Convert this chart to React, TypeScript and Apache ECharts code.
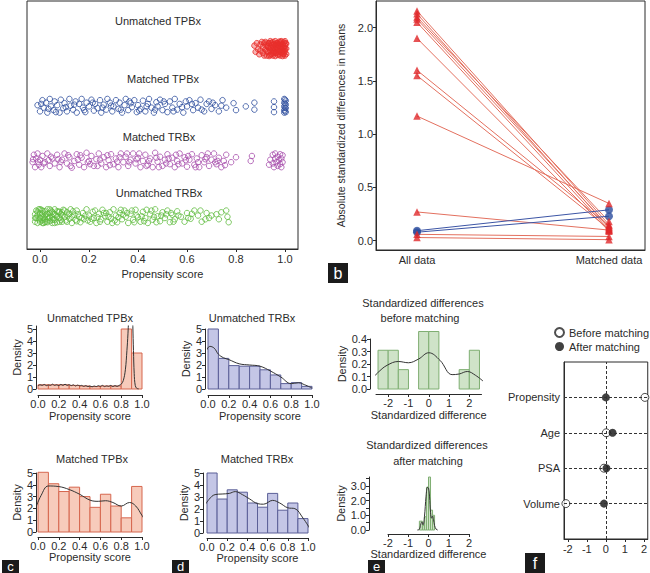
import React, { useEffect, useRef } from 'react';
import * as echarts from 'echarts';

const FONT = '"Liberation Sans", Arial, Helvetica, sans-serif';
const INK = '#2b2b2b';

// ---------- panel a : jittered propensity scores ----------
const groupNames = ['Unmatched TPBx', 'Matched TPBx', 'Matched TRBx', 'Unmatched TRBx'];
const scoreTicks = [0, 0.2, 0.4, 0.6, 0.8, 1.0];
const unmatchedTPBx = [
  [0.875, 8.2], [0.88, 7.95], [0.885, 8.3], [0.89, 8.05], [0.895, 7.85], [0.9, 8.25], [0.9, 8.0], [0.905, 8.35],
  [0.91, 7.9], [0.91, 8.15], [0.915, 7.8], [0.915, 8.3], [0.92, 8.05], [0.92, 8.35], [0.925, 7.8], [0.925, 8.2],
  [0.93, 7.95], [0.93, 8.3], [0.935, 8.1], [0.935, 7.78], [0.94, 8.38], [0.94, 8.0], [0.945, 7.85], [0.945, 8.22],
  [0.95, 8.1], [0.95, 7.8], [0.95, 8.35], [0.955, 7.95], [0.955, 8.25], [0.96, 8.05], [0.96, 7.78], [0.96, 8.38],
  [0.965, 8.15], [0.965, 7.9], [0.97, 8.3], [0.97, 8.0], [0.97, 7.82], [0.975, 8.2], [0.975, 7.95], [0.975, 8.36],
  [0.98, 8.1], [0.98, 7.8], [0.98, 8.28], [0.985, 7.92], [0.985, 8.15], [0.985, 8.38], [0.99, 8.0], [0.99, 7.78],
  [0.99, 8.25], [0.995, 8.1], [0.995, 7.88], [0.995, 8.33], [1.0, 7.97], [1.0, 8.2], [1.0, 7.8], [1.0, 8.38],
  [1.005, 8.08], [1.005, 7.86], [1.005, 8.28], [0.93, 8.15], [0.94, 7.82], [0.95, 8.0], [0.96, 8.22], [0.97, 8.12],
  [0.98, 7.98], [0.99, 8.12], [1.0, 8.08], [0.945, 8.3], [0.955, 8.1], [0.965, 8.3], [0.975, 7.85], [0.985, 8.05],
  [0.995, 7.98], [0.925, 7.98], [0.935, 8.3], [0.942, 8.12], [0.952, 7.9], [0.962, 7.92], [0.972, 8.25], [0.982, 8.36],
  [0.992, 7.85], [1.002, 8.3],
];
const matchedTPBx = [
  [-0.01, 5.8], [0.0, 5.55], [0.01, 6.0], [0.015, 5.7], [0.025, 5.9], [0.03, 5.5], [0.04, 6.05], [0.045, 5.75],
  [0.055, 5.6], [0.06, 5.95], [0.07, 5.8], [0.08, 5.5], [0.085, 6.02], [0.095, 5.68], [0.1, 5.88], [0.11, 5.55],
  [0.12, 6.05], [0.125, 5.78], [0.135, 5.62], [0.145, 5.95], [0.15, 5.5], [0.16, 5.85], [0.17, 6.05], [0.175, 5.7],
  [0.185, 5.52], [0.19, 5.9], [0.2, 5.75], [0.21, 6.02], [0.22, 5.58], [0.225, 5.85], [0.235, 5.68], [0.245, 6.0],
  [0.25, 5.5], [0.26, 5.82], [0.27, 5.62], [0.275, 6.05], [0.285, 5.9], [0.295, 5.55], [0.3, 5.75], [0.31, 6.0],
  [0.32, 5.65], [0.325, 5.9], [0.335, 5.5], [0.345, 5.8], [0.35, 6.05], [0.36, 5.6], [0.37, 5.88], [0.375, 5.72],
  [0.385, 6.0], [0.395, 5.52], [0.4, 5.8], [0.41, 5.65], [0.42, 5.98], [0.43, 5.55], [0.44, 5.85], [0.445, 6.05],
  [0.455, 5.7], [0.465, 5.5], [0.475, 5.92], [0.48, 5.75], [0.49, 6.02], [0.5, 5.6], [0.51, 5.85], [0.52, 5.52],
  [0.53, 5.95], [0.54, 5.7], [0.55, 6.05], [0.56, 5.62], [0.57, 5.85], [0.585, 5.5], [0.595, 5.95], [0.6, 5.75],
  [0.61, 6.0], [0.625, 5.6], [0.635, 5.88], [0.645, 5.7], [0.655, 6.02], [0.67, 5.55], [0.68, 5.85], [0.69, 5.95],
  [0.7, 5.65], [0.715, 5.8], [0.73, 5.55], [0.745, 6.0], [0.76, 5.7], [0.79, 5.88], [0.8, 5.6], [0.84, 5.75],
  [0.875, 5.62], [0.875, 5.9], [0.955, 5.95], [0.955, 5.72], [0.955, 5.52],
  [0.997, 6.05], [0.997, 5.9], [0.997, 5.75], [0.997, 5.6], [0.997, 5.5], [1.003, 5.98], [1.003, 5.82],
  [1.003, 5.68], [1.003, 5.52], [1.0, 6.02], [1.0, 5.86], [1.0, 5.7], [1.0, 5.56],
  [0.005, 5.85], [0.035, 5.65], [0.065, 5.52], [0.105, 5.72], [0.14, 5.82], [0.18, 5.6], [0.215, 5.9],
  [0.255, 5.7], [0.29, 5.78], [0.33, 5.62], [0.365, 5.95], [0.405, 5.58], [0.435, 5.75], [0.47, 5.62],
  [0.505, 5.95], [0.545, 5.55], [0.58, 5.72], [0.62, 5.85], [0.66, 5.62], [0.705, 5.9], [0.74, 5.78],
];
const matchedTRBx = [
  [-0.03, 3.5], [-0.025, 3.8], [-0.02, 3.3], [-0.015, 3.65], [-0.01, 3.85], [-0.005, 3.4], [0.0, 3.6], [0.005, 3.3],
  [0.01, 3.75], [0.02, 3.5], [0.03, 3.85], [0.04, 3.35], [0.05, 3.65], [0.06, 3.45], [0.07, 3.8], [0.08, 3.3],
  [0.09, 3.6], [0.1, 3.85], [0.11, 3.45], [0.12, 3.7], [0.13, 3.28], [0.14, 3.55], [0.15, 3.82], [0.16, 3.4],
  [0.17, 3.68], [0.18, 3.3], [0.19, 3.88], [0.2, 3.55], [0.21, 3.75], [0.22, 3.35], [0.23, 3.62], [0.24, 3.85],
  [0.25, 3.45], [0.26, 3.7], [0.27, 3.3], [0.28, 3.58], [0.29, 3.82], [0.3, 3.42], [0.31, 3.65], [0.32, 3.3],
  [0.33, 3.85], [0.34, 3.5], [0.35, 3.72], [0.36, 3.35], [0.37, 3.6], [0.38, 3.85], [0.39, 3.45], [0.4, 3.68],
  [0.41, 3.3], [0.42, 3.55], [0.43, 3.8], [0.44, 3.4], [0.45, 3.65], [0.46, 3.3], [0.47, 3.88], [0.48, 3.52],
  [0.49, 3.72], [0.5, 3.35], [0.51, 3.6], [0.52, 3.82], [0.53, 3.42], [0.54, 3.68], [0.55, 3.3], [0.56, 3.55],
  [0.57, 3.85], [0.58, 3.45], [0.59, 3.7], [0.6, 3.32], [0.61, 3.6], [0.62, 3.82], [0.63, 3.4], [0.64, 3.65],
  [0.65, 3.3], [0.66, 3.78], [0.67, 3.5], [0.68, 3.7], [0.69, 3.35], [0.7, 3.6], [0.71, 3.85], [0.72, 3.42],
  [0.73, 3.68], [0.74, 3.3], [0.75, 3.55], [0.76, 3.8], [0.78, 3.5], [0.8, 3.7], [0.86, 3.55], [0.865, 3.75],
  [0.935, 3.4], [0.94, 3.6], [0.95, 3.8], [0.95, 3.45], [0.955, 3.3], [0.96, 3.65], [0.96, 3.85], [0.965, 3.5],
  [0.97, 3.35], [0.97, 3.72], [0.975, 3.58], [0.98, 3.82], [0.98, 3.42], [0.985, 3.3], [0.985, 3.65], [0.99, 3.5],
  [0.99, 3.78], [0.015, 3.45], [0.045, 3.72], [0.085, 3.52], [0.125, 3.35], [0.165, 3.78], [0.205, 3.42],
  [0.245, 3.6], [0.285, 3.38], [0.325, 3.7], [0.365, 3.5], [0.405, 3.85], [0.445, 3.55], [0.485, 3.3],
  [0.525, 3.65], [0.565, 3.42], [0.605, 3.75], [0.645, 3.5], [0.685, 3.85], [0.725, 3.55],
  [-0.028, 3.62], [-0.008, 3.52], [0.035, 3.58], [0.075, 3.62], [0.115, 3.78], [0.155, 3.6], [0.195, 3.5],
  [0.235, 3.35], [0.275, 3.78], [0.315, 3.52], [0.355, 3.85], [0.395, 3.62], [0.435, 3.35], [0.475, 3.68],
  [0.515, 3.45], [0.555, 3.8], [0.595, 3.58], [0.635, 3.3], [0.675, 3.62], [0.715, 3.5], [0.755, 3.38],
];
const unmatchedTRBx = [
  [-0.02, 1.1], [-0.02, 1.4], [-0.015, 1.25], [-0.015, 1.55], [-0.01, 1.05], [-0.01, 1.35], [-0.005, 1.6], [-0.005, 1.2],
  [0.0, 1.45], [0.0, 1.1], [0.005, 1.3], [0.005, 1.58], [0.01, 1.15], [0.01, 1.42], [0.015, 1.05], [0.015, 1.28],
  [0.02, 1.52], [0.02, 1.2], [0.025, 1.38], [0.03, 1.08], [0.03, 1.6], [0.035, 1.25], [0.04, 1.45], [0.04, 1.12],
  [0.045, 1.55], [0.05, 1.3], [0.05, 1.05], [0.055, 1.42], [0.06, 1.18], [0.06, 1.6], [0.065, 1.35], [0.07, 1.08],
  [0.075, 1.5], [0.08, 1.25], [0.085, 1.4], [0.09, 1.1], [0.095, 1.58], [0.1, 1.3], [0.105, 1.15], [0.11, 1.48],
  [0.12, 1.22], [0.125, 1.6], [0.13, 1.05], [0.14, 1.38], [0.145, 1.18], [0.15, 1.55], [0.16, 1.3], [0.165, 1.08],
  [0.175, 1.45], [0.18, 1.2], [0.19, 1.6], [0.2, 1.35], [0.205, 1.1], [0.215, 1.5], [0.22, 1.25], [0.23, 1.05],
  [0.24, 1.42], [0.25, 1.2], [0.255, 1.58], [0.265, 1.32], [0.275, 1.1], [0.285, 1.48], [0.29, 1.22], [0.3, 1.6],
  [0.31, 1.35], [0.315, 1.08], [0.325, 1.45], [0.335, 1.2], [0.345, 1.55], [0.35, 1.3], [0.36, 1.05], [0.37, 1.42],
  [0.38, 1.18], [0.39, 1.58], [0.4, 1.28], [0.41, 1.1], [0.42, 1.5], [0.43, 1.25], [0.44, 1.05], [0.45, 1.4],
  [0.46, 1.18], [0.47, 1.6], [0.48, 1.32], [0.49, 1.12], [0.5, 1.48], [0.51, 1.25], [0.52, 1.55], [0.53, 1.08],
  [0.54, 1.38], [0.55, 1.2], [0.56, 1.52], [0.575, 1.3], [0.59, 1.1], [0.6, 1.45], [0.615, 1.22], [0.63, 1.55],
  [0.645, 1.35], [0.66, 1.1], [0.68, 1.45], [0.69, 1.25], [0.72, 1.4], [0.73, 1.2], [0.76, 1.55], [0.765, 1.3],
  [0.77, 1.08], [0.0, 1.25], [0.01, 1.55], [0.02, 1.35], [0.03, 1.42], [0.04, 1.28], [0.05, 1.5], [0.06, 1.4],
  [0.07, 1.3], [0.08, 1.5], [0.09, 1.35], [0.025, 1.1], [0.055, 1.2], [0.085, 1.18], [0.115, 1.35], [0.135, 1.52],
  [0.17, 1.25], [0.195, 1.15], [0.235, 1.28], [0.27, 1.45], [0.305, 1.15], [0.34, 1.38], [0.375, 1.55],
  [0.415, 1.32], [0.455, 1.55], [0.495, 1.35], [0.535, 1.45],
  [-0.02, 1.25], [-0.01, 1.5], [0.0, 1.6], [0.01, 1.05], [0.02, 1.08], [0.03, 1.3], [0.04, 1.6], [0.05, 1.18],
  [0.06, 1.05], [0.07, 1.52], [0.08, 1.1], [0.09, 1.48], [0.1, 1.55], [0.11, 1.1], [0.12, 1.42], [0.13, 1.3],
  [0.15, 1.12], [0.155, 1.4], [0.185, 1.35], [0.21, 1.22], [0.225, 1.55], [0.245, 1.1], [0.26, 1.45],
  [0.28, 1.3], [0.295, 1.05], [0.32, 1.28], [0.33, 1.58], [0.355, 1.45], [0.385, 1.08], [0.395, 1.35],
  [0.425, 1.12], [0.435, 1.58], [0.465, 1.3], [0.475, 1.08], [0.515, 1.4], [0.545, 1.1], [0.565, 1.35],
  [0.605, 1.25], [0.62, 1.42], [0.655, 1.55], [0.675, 1.2], [0.7, 1.35], [0.74, 1.48],
];

// ---------- panel b : absolute standardized differences ----------
const bCats = ['All data', 'Matched data'];
const bTicks = [0, 0.5, 1.0, 1.5, 2.0];
const redBefore = [2.157, 2.13, 2.1, 2.08, 2.05, 1.9, 1.6, 1.55, 1.17, 0.27, 0.06, 0.03];
const redAfter = [0.15, 0.12, 0.18, 0.13, 0.1, 0.09, 0.14, 0.11, 0.35, 0.1, 0.04, 0.01];
const blueBefore = [0.094, 0.08];
const blueAfter = [0.29, 0.23];

// ---------- panels c, d : propensity score histograms ----------
const binEdges01 = [0, 0.1, 0.2, 0.3, 0.4, 0.5, 0.6, 0.7, 0.8, 0.9, 1.0];
const unmatchedTPBxHist = [0.35, 0.35, 0.35, 0.3, 0.25, 0.2, 0.25, 0.25, 5.0, 3.0];
const unmatchedTRBxHist = [5.0, 2.55, 1.95, 1.9, 1.9, 1.6, 1.17, 0.45, 0.53, 0.22];
const matchedTPBxHist = [5.06, 4.09, 3.43, 3.8, 3.0, 2.09, 3.2, 2.2, 1.2, 3.86];
const matchedTRBxHist = [5.0, 2.83, 3.6, 3.4, 2.5, 2.15, 3.3, 1.9, 2.5, 1.2];
const unmatchedTPBxDens = [
  [0, 0.25], [0.02, 0.35], [0.04, 0.3], [0.06, 0.38], [0.08, 0.28], [0.1, 0.33], [0.12, 0.3], [0.14, 0.4],
  [0.16, 0.3], [0.18, 0.35], [0.2, 0.28], [0.22, 0.38], [0.24, 0.3], [0.26, 0.4], [0.28, 0.3], [0.3, 0.36],
  [0.32, 0.28], [0.34, 0.35], [0.36, 0.25], [0.38, 0.32], [0.4, 0.27], [0.42, 0.3], [0.44, 0.22], [0.46, 0.28],
  [0.48, 0.2], [0.5, 0.25], [0.52, 0.18], [0.54, 0.25], [0.56, 0.2], [0.58, 0.28], [0.6, 0.22], [0.62, 0.3],
  [0.64, 0.2], [0.66, 0.26], [0.68, 0.22], [0.7, 0.3], [0.72, 0.2], [0.74, 0.28], [0.76, 0.22], [0.78, 0.3],
  [0.8, 0.4], [0.82, 0.7], [0.84, 1.6], [0.855, 3.2], [0.865, 4.6], [0.875, 6.5], [0.89, 9], [0.905, 7.5],
  [0.912, 5.2], [0.918, 3.2], [0.925, 1.3], [0.935, 0.3], [0.95, 0.05], [0.97, 0],
];
const unmatchedTRBxDens = [
  [-0.07, 1.9], [-0.03, 2.9], [0.02, 3.55], [0.06, 3.4], [0.1, 2.9], [0.15, 2.6], [0.2, 2.45], [0.3, 2.1],
  [0.4, 2.0], [0.5, 1.9], [0.6, 1.5], [0.7, 1.0], [0.8, 0.45], [0.87, 0.52], [0.93, 0.35], [1.0, 0.08],
];
const matchedTPBxDens = [
  [-0.03, 1.85], [0.03, 3.1], [0.1, 3.9], [0.2, 3.85], [0.3, 3.6], [0.4, 3.2], [0.5, 2.7], [0.58, 2.6],
  [0.65, 2.65], [0.72, 2.5], [0.8, 2.2], [0.88, 2.5], [0.94, 2.2], [1.0, 1.4], [1.05, 0.75],
];
const matchedTRBxDens = [
  [-0.05, 1.95], [0.02, 2.8], [0.08, 3.2], [0.15, 3.25], [0.22, 3.3], [0.28, 3.45], [0.35, 3.2], [0.42, 2.85],
  [0.5, 2.45], [0.56, 2.4], [0.65, 2.72], [0.72, 2.5], [0.8, 2.1], [0.87, 2.03], [0.95, 1.25], [1.02, 0.35],
];

// ---------- panel e : standardized differences ----------
const beforeEdges = [-2.5, -2, -1.5, -1, -0.5, 0, 0.5, 1, 1.5, 2, 2.5];
const beforeHist = [0.31, 0.31, 0.155, 0, 0.46, 0.46, 0, 0, 0.155, 0.31];
const beforeDens = [
  [-2.87, 0.07], [-2.45, 0.14], [-2.05, 0.19], [-1.5, 0.22], [-1.0, 0.21], [-0.5, 0.24], [0, 0.29],
  [0.55, 0.23], [1.15, 0.115], [1.5, 0.12], [1.9, 0.14], [2.3, 0.11], [2.7, 0.06],
];
const afterEdges = [-0.45, -0.3, -0.2, -0.1, 0, 0.1, 0.2, 0.3];
const afterHist = [0.6, 0.3, 0.9, 2.9, 3.6, 1.35, 1.0];
const afterDens = [
  [-0.55, 0], [-0.45, 0.05], [-0.38, 0.4], [-0.33, 0.55], [-0.27, 0.35], [-0.2, 0.9], [-0.12, 2.3],
  [-0.05, 2.9], [0.0, 2.85], [0.05, 2.3], [0.1, 1.2], [0.15, 0.8], [0.2, 0.95], [0.25, 0.7], [0.3, 0.3],
  [0.38, 0.05], [0.45, 0],
];

// ---------- panel f : covariate balance ----------
const covariates = ['Propensity', 'Age', 'PSA', 'Volume'];
const beforeMatching = [2.05, 0.02, -0.1, -2.1];
const afterMatching = [0.0, 0.35, 0.03, -0.1];
const fTicks = [-2, -1, 0, 1, 2];

const txt = { color: INK, fontSize: 11, fontFamily: FONT };

function xAx(gridIndex: number, min: number, max: number, ticks: number[], fmt: (v: number) => string, o: any = {}) {
  return {
    type: 'value', gridIndex, min, max, position: 'bottom', offset: o.offset || 0,
    axisLine: { show: o.line !== false, onZero: false, lineStyle: { color: INK, width: 1 } },
    axisTick: { show: o.tick !== false, length: 3, customValues: ticks, lineStyle: { color: INK } },
    axisLabel: { ...txt, margin: o.margin ?? 3, customValues: ticks, formatter: fmt },
    splitLine: { show: false },
    name: o.name || '', nameLocation: 'middle', nameGap: o.nameGap ?? 14, nameTextStyle: txt,
  };
}
function yAx(gridIndex: number, min: number, max: number, ticks: number[], labels: number[], fmt: (v: number) => string, o: any = {}) {
  return {
    type: 'value', gridIndex, min, max, position: 'left', offset: o.offset || 0,
    axisLine: { show: o.line !== false, onZero: false, lineStyle: { color: INK, width: 1 } },
    axisTick: { show: o.tick !== false, length: 3, customValues: ticks, lineStyle: { color: INK } },
    axisLabel: { ...txt, show: o.labels !== false, margin: o.margin ?? 3, customValues: labels, formatter: fmt },
    splitLine: { show: false },
    name: o.name || '', nameLocation: 'middle', nameGap: o.nameGap ?? 11,
    nameTextStyle: { ...txt, fontSize: o.nameSize || 11 },
  };
}

function histSeries(idx: number, edges: number[], heights: number[], fill: string, stroke: string) {
  const data = heights.map((h, i) => [edges[i], edges[i + 1], h]).filter((d) => d[2] > 0);
  return {
    type: 'custom', xAxisIndex: idx, yAxisIndex: idx, data, encode: { x: [0, 1], y: 2 }, clip: false, z: 2,
    renderItem: (_p: any, api: any) => {
      const a = api.coord([api.value(0), api.value(2)]);
      const b = api.coord([api.value(1), 0]);
      return {
        type: 'rect',
        shape: { x: a[0], y: a[1], width: b[0] - a[0], height: b[1] - a[1] },
        style: { fill, stroke, lineWidth: 1 },
      };
    },
  };
}
function densSeries(idx: number, data: number[][], clip = false) {
  return {
    type: 'line', xAxisIndex: idx, yAxisIndex: idx, data, smooth: 0.4, showSymbol: false, symbol: 'none', clip,
    lineStyle: { color: '#333', width: 1 }, z: 3,
  };
}
function jitter(data: number[][], color: string, fill: string) {
  return {
    type: 'scatter', xAxisIndex: 0, yAxisIndex: 0, data, symbol: 'circle', symbolSize: 5.5,
    itemStyle: { color: fill, borderColor: color, borderWidth: 1 },
  };
}
function label(text: string, cx: number, cy: number, size = 11, color = INK) {
  return {
    type: 'text', x: cx, y: cy,
    style: { text, fill: color, font: `${size}px ${FONT}`, align: 'center', verticalAlign: 'middle', textAlign: 'center', textVerticalAlign: 'middle' },
  };
}
function tag(letter: string, x: number, y: number, w: number, h: number, size = 16) {
  return {
    type: 'group', x, y,
    children: [
      { type: 'rect', shape: { x: 0, y: 0, width: w, height: h }, style: { fill: '#1b1b1b' } },
      label(letter, w / 2, h / 2, size, '#ffffff'),
    ],
  };
}

const f1 = (v: number) => v.toFixed(1);
const f0 = (v: number) => String(Math.round(v));

export default function App() {
  const ref = useRef<HTMLDivElement>(null);
  useEffect(() => {
    const chart = echarts.init(ref.current!, null, { renderer: 'svg' });
    const hGrid = (left: number, top: number, width: number, height: number) => ({ left, top, width, height, containLabel: false });
    const boxGrid = (left: number, top: number, width: number, height: number) => ({
      left, top, width, height, show: true, borderColor: INK, borderWidth: 1, backgroundColor: 'transparent',
    });
    const tpbxFill = '#f7cbbb', tpbxLine = '#d6664e';
    const trbxFill = '#c4c6e6', trbxLine = '#5b5f97';

    const series: any[] = [
      jitter(unmatchedTPBx, '#e8302c', 'rgba(232,48,44,0.45)'),
      jitter(matchedTPBx, '#2d4d9d', 'rgba(255,255,255,0)'),
      jitter(matchedTRBx, '#a64cab', 'rgba(255,255,255,0)'),
      jitter(unmatchedTRBx, '#5fbb3e', 'rgba(255,255,255,0)'),
    ];
    redBefore.forEach((v, i) => {
      series.push({
        type: 'line', xAxisIndex: 1, yAxisIndex: 1, data: [[0, v], [1, redAfter[i]]], showSymbol: false, symbol: 'none',
        lineStyle: { color: '#e3705f', width: 1 }, z: 2,
      });
    });
    blueBefore.forEach((v, i) => {
      series.push({
        type: 'line', xAxisIndex: 1, yAxisIndex: 1, data: [[0, v], [1, blueAfter[i]]], showSymbol: false, symbol: 'none',
        lineStyle: { color: '#3c55a5', width: 1 }, z: 2,
      });
    });
    series.push({
      type: 'scatter', xAxisIndex: 1, yAxisIndex: 1, symbol: 'circle', symbolSize: 8, z: 3,
      data: [...blueBefore.map((v) => [0, v]), ...blueAfter.map((v) => [1, v])],
      itemStyle: { color: '#2a4c9e' },
    });
    series.push({
      type: 'scatter', xAxisIndex: 1, yAxisIndex: 1, symbol: 'triangle', symbolSize: 7.5, z: 4,
      data: [...redBefore.map((v) => [0, v]), ...redAfter.map((v) => [1, v])],
      itemStyle: { color: '#e0282a' },
    });

    series.push(histSeries(2, binEdges01, unmatchedTPBxHist, tpbxFill, tpbxLine));
    series.push(densSeries(2, unmatchedTPBxDens, true));
    series.push(histSeries(3, binEdges01, unmatchedTRBxHist, trbxFill, trbxLine));
    series.push(densSeries(3, unmatchedTRBxDens));
    series.push(histSeries(4, binEdges01, matchedTPBxHist, tpbxFill, tpbxLine));
    series.push(densSeries(4, matchedTPBxDens));
    series.push(histSeries(5, binEdges01, matchedTRBxHist, trbxFill, trbxLine));
    series.push(densSeries(5, matchedTRBxDens));
    series.push(histSeries(6, beforeEdges, beforeHist, '#cfe3c8', '#7fae72'));
    series.push(densSeries(6, beforeDens));
    series.push(histSeries(7, afterEdges, afterHist, '#cfe3c8', '#7fae72'));
    series.push(densSeries(7, afterDens));

    const yPos = covariates.map((_, i) => covariates.length - i);
    series.push({
      type: 'scatter', xAxisIndex: 8, yAxisIndex: 8, data: [], silent: true, z: 1,
      markLine: {
        silent: true, symbol: 'none', label: { show: false },
        lineStyle: { color: '#333', type: [3, 2], width: 1 },
        data: [...yPos.map((y) => ({ yAxis: y })), { xAxis: 0 }],
      },
    });
    series.push({
      name: 'Before matching', type: 'scatter', xAxisIndex: 8, yAxisIndex: 8, symbol: 'circle', symbolSize: 8, z: 3,
      data: beforeMatching.map((v, i) => [v, yPos[i]]),
      itemStyle: { color: '#ffffff', borderColor: '#222', borderWidth: 1 },
    });
    series.push({
      name: 'After matching', type: 'scatter', xAxisIndex: 8, yAxisIndex: 8, symbol: 'circle', symbolSize: 8, z: 4,
      data: afterMatching.map((v, i) => [v, yPos[i]]),
      itemStyle: { color: '#111111' },
    });

    const option: any = {
      animation: false,
      backgroundColor: '#ffffff',
      textStyle: { fontFamily: FONT },
      legend: {
        data: ['Before matching', 'After matching'], orient: 'vertical', left: 554, top: 327,
        itemWidth: 9, itemHeight: 9, itemGap: 3, padding: 0, textStyle: txt,
      },
      grid: [
        boxGrid(27, 1, 271, 248),
        boxGrid(376, 1, 269, 249),
        hGrid(38, 326, 104, 63),
        hGrid(208, 329, 104, 60),
        hGrid(38, 473, 104, 59),
        hGrid(207, 473, 101, 60),
        hGrid(376, 339, 105.5, 50),
        hGrid(388, 477, 81, 53),
        boxGrid(564, 362, 84, 177),
      ],
      xAxis: [
        xAx(0, -0.053, 1.053, scoreTicks, f1, { name: 'Propensity score', nameGap: 19, margin: 4 }),
        xAx(1, -0.2135, 1.1875, [0, 1], (v) => bCats[Math.round(v)], { tick: false, margin: 4 }),
        xAx(2, 0, 1, scoreTicks, f1, { offset: 6, name: 'Propensity score', nameGap: 15 }),
        xAx(3, 0, 1, scoreTicks, f1, { offset: 6, name: 'Propensity score', nameGap: 15 }),
        xAx(4, 0, 1, scoreTicks, f1, { offset: 5, name: 'Propensity score', nameGap: 14 }),
        xAx(5, 0, 1, scoreTicks, f1, { offset: 5, name: 'Propensity score', nameGap: 14 }),
        xAx(6, -2.6, 2.6, fTicks, f0, { offset: 5, name: 'Standardized difference', nameGap: 15 }),
        xAx(7, -2, 2, fTicks, f0, { offset: 4, name: 'Standardized difference', nameGap: 12 }),
        xAx(8, -2.2, 2.2, fTicks, f0, { margin: 4 }),
      ],
      yAxis: [
        yAx(0, 0, 10, [], [], f1, { line: false, tick: false, labels: false }),
        yAx(1, -0.087, 2.25, bTicks, bTicks, f1, { name: 'Absolute standardized differences in means', nameGap: 30, nameSize: 10.5 }),
        yAx(2, 0, 5.25, [0, 1, 2, 3, 4, 5], [0, 1, 2, 3, 4, 5], f0, { offset: 2, name: 'Density' }),
        yAx(3, 0, 5, [0, 1, 2, 3, 4, 5], [0, 1, 2, 3, 4, 5], f0, { offset: 3, name: 'Density' }),
        yAx(4, 0, 5, [0, 1, 2, 3, 4, 5], [0, 1, 2, 3, 4, 5], f0, { offset: 2, name: 'Density' }),
        yAx(5, 0, 5, [0, 1, 2, 3, 4, 5], [0, 1, 2, 3, 4, 5], f0, { offset: 4, name: 'Density' }),
        yAx(6, 0, 0.4, [0, 0.1, 0.2, 0.3, 0.4], [0, 0.1, 0.2, 0.3, 0.4], f1, { offset: 6, nameGap: 22, name: 'Density' }),
        yAx(7, 0, 3.6, [0, 0.5, 1, 1.5, 2, 2.5, 3, 3.5], [0, 1, 2, 3], f1, { offset: 19, nameGap: 22, name: 'Density' }),
        yAx(8, 0, 5, [], yPos, (v) => covariates[covariates.length - Math.round(v)], { tick: false, margin: 4 }),
      ],
      series,
      graphic: [
        label(groupNames[0], 158, 21),
        label(groupNames[1], 163, 79),
        label(groupNames[2], 159, 137),
        label(groupNames[3], 159, 193),
        label('Unmatched TPBx', 90, 318),
        label('Unmatched TRBx', 252, 318),
        label('Matched TPBx', 92, 459),
        label('Matched TRBx', 257, 459),
        label('Standardized differences', 423, 303),
        label('before matching', 420, 318),
        label('Standardized differences', 427, 445),
        label('after matching', 428, 461),
        tag('a', 0, 263, 18, 19),
        tag('b', 328, 263, 20, 20),
        tag('c', 2, 560, 17, 13, 13),
        tag('d', 172, 560, 17, 13, 13),
        tag('e', 368, 560, 17, 13, 13),
        tag('f', 525, 553, 20, 20),
      ],
    };
    chart.setOption(option);
    return () => chart.dispose();
  }, []);
  return <div ref={ref} style={{ position: 'absolute', left: 0, top: 0, width: 650, height: 573 }} />;
}
